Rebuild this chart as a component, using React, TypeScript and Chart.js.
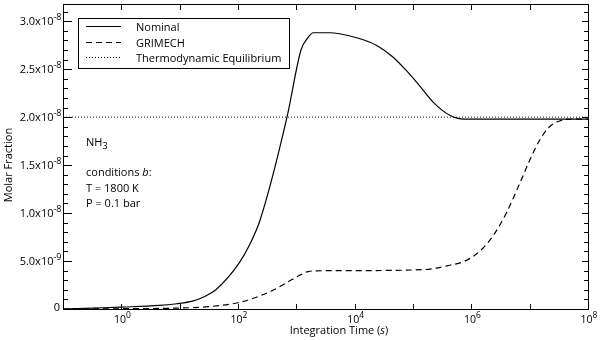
import React, { useEffect, useRef } from "react";
import { Chart, registerables } from "chart.js";

Chart.register(...registerables);

// ---- Data ----
const nominalTime = [0.1, 0.316, 1, 4.47, 8.9, 16.6, 26.3, 41.7, 105, 158, 240, 692, 1202, 1585, 1950, 3715, 5495, 12023, 23442, 44668, 75858, 128825, 218776, 426580, 758578, 1e8];
const nominalValue = [0, 1.0e-10, 2.0e-10, 3.7e-10, 5.5e-10, 8.2e-10, 1.28e-9, 2.0e-9, 4.8e-9, 6.7e-9, 9.3e-9, 2.0e-8, 2.7e-8, 2.83e-8, 2.88e-8, 2.88e-8, 2.87e-8, 2.82e-8, 2.75e-8, 2.63e-8, 2.49e-8, 2.33e-8, 2.16e-8, 2.02e-8, 1.98e-8, 1.98e-8];

const grimechTime = [0.1, 1, 10, 31.6, 100, 200, 398, 708, 1122, 1585, 2239, 5495, 147911, 426580, 758578, 1.38e6, 2.34e6, 3.98e6, 6.76e6, 1e7, 1.48e7, 2.19e7, 3.24e7, 5.5e7, 1e8];
const grimechValue = [0, 3e-11, 1.0e-10, 2.5e-10, 6.5e-10, 1.2e-9, 1.95e-9, 2.8e-9, 3.5e-9, 3.9e-9, 3.98e-9, 4.0e-9, 4.1e-9, 4.56e-9, 4.97e-9, 6.0e-9, 7.6e-9, 1.0e-8, 1.31e-8, 1.55e-8, 1.76e-8, 1.9e-8, 1.96e-8, 1.98e-8, 1.98e-8];

const equilibriumTime = [0.1, 1e8];
const equilibriumValue = [2.0e-8, 2.0e-8];

const seriesNames = ["Nominal", "GRIMECH", "Thermodynamic Equilibrium"];

const xMin = 0.1;
const xMax = 1e8;
const yMin = 0;
const yMax = 3.18e-8;

const xTickValues = [1, 1e2, 1e4, 1e6, 1e8];
const xTickExponents = ["0", "2", "4", "6", "8"];
const xDecadeTicks = [0.1, 1, 10, 1e2, 1e3, 1e4, 1e5, 1e6, 1e7, 1e8];

const yTickValues = [0, 5e-9, 1e-8, 1.5e-8, 2e-8, 2.5e-8, 3e-8];
const yTickMantissas = ["0", "5.0x10", "1.0x10", "1.5x10", "2.0x10", "2.5x10", "3.0x10"];
const yTickExponents = ["", "-9", "-8", "-8", "-8", "-8", "-8"];
const yMinorStep = 1e-9;

const xTitle = "Integration Time (";
const xTitleItalic = "s";
const yTitle = "Molar Fraction";
const speciesName = "NH";
const speciesSub = "3";
const conditionsLines = ["T = 1800 K", "P = 0.1 bar"];

const FONT = '"Open Sans", "DejaVu Sans", sans-serif';

const overlayPlugin = {
  id: "overlay",
  afterDraw(chart: any) {
    const ctx: CanvasRenderingContext2D = chart.ctx;
    const { left, right, top, bottom } = chart.chartArea;
    const xs = chart.scales.x;
    const ys = chart.scales.y;
    ctx.save();
    ctx.strokeStyle = "#000";
    ctx.fillStyle = "#000";
    ctx.lineWidth = 1;
    ctx.setLineDash([]);

    // frame
    ctx.strokeRect(Math.round(left) + 0.5, Math.round(top) + 0.5, Math.round(right - left), Math.round(bottom - top));

    // x ticks
    ctx.beginPath();
    xDecadeTicks.forEach((v) => {
      const px = Math.round(xs.getPixelForValue(v)) + 0.5;
      ctx.moveTo(px, bottom);
      ctx.lineTo(px, bottom - 5);
      ctx.moveTo(px, top);
      ctx.lineTo(px, top + 6);
    });
    // y ticks
    for (let v = yMin; v <= yMax + 1e-15; v += yMinorStep) {
      const isMajor = Math.abs(v / 5e-9 - Math.round(v / 5e-9)) < 1e-6;
      const py = Math.round(ys.getPixelForValue(v)) + 0.5;
      ctx.moveTo(left, py);
      ctx.lineTo(left + (isMajor ? 9 : 5), py);
      ctx.moveTo(right, py);
      ctx.lineTo(right - (isMajor ? 6 : 4), py);
    }
    ctx.stroke();

    // y tick labels
    const baseY = `11px ${FONT}`;
    const supY = `9px ${FONT}`;
    yTickValues.forEach((v, i) => {
      const py = ys.getPixelForValue(v);
      ctx.textBaseline = "middle";
      ctx.textAlign = "left";
      if (!yTickExponents[i]) {
        ctx.font = baseY;
        const w = ctx.measureText(yTickMantissas[i]).width;
        ctx.fillText(yTickMantissas[i], 60 - w, py - 1);
        return;
      }
      ctx.font = supY;
      const ws = ctx.measureText(yTickExponents[i]).width;
      ctx.font = baseY;
      const wb = ctx.measureText(yTickMantissas[i]).width;
      const end = 61.5;
      ctx.fillText(yTickMantissas[i], end - ws - wb, py + 0.5);
      ctx.font = supY;
      ctx.fillText(yTickExponents[i], end - ws, py - 3.5);
    });

    // x tick labels
    xTickValues.forEach((v, i) => {
      const px = xs.getPixelForValue(v);
      ctx.textBaseline = "alphabetic";
      ctx.textAlign = "left";
      ctx.font = `10.5px ${FONT}`;
      const wb = ctx.measureText("10").width;
      ctx.font = `8.5px ${FONT}`;
      const ws = ctx.measureText(xTickExponents[i]).width;
      let start = px - (wb + ws) / 2 + 1;
      if (start + wb + ws > 599) start = 599 - wb - ws;
      ctx.font = `10.5px ${FONT}`;
      ctx.fillText("10", start, 323);
      ctx.font = `8.5px ${FONT}`;
      ctx.fillText(xTickExponents[i], start + wb, 318);
    });

    // x title
    ctx.font = `11px ${FONT}`;
    const w1 = ctx.measureText(xTitle).width;
    ctx.font = `italic 11px ${FONT}`;
    const w2 = ctx.measureText(xTitleItalic).width;
    ctx.font = `11px ${FONT}`;
    const w3 = ctx.measureText(")").width;
    const xStart = 339 - (w1 + w2 + w3) / 2;
    ctx.textBaseline = "alphabetic";
    ctx.fillText(xTitle, xStart, 334);
    ctx.font = `italic 11px ${FONT}`;
    ctx.fillText(xTitleItalic, xStart + w1, 334);
    ctx.font = `11px ${FONT}`;
    ctx.fillText(")", xStart + w1 + w2, 334);

    // y title
    ctx.save();
    ctx.translate(9, 165);
    ctx.rotate(-Math.PI / 2);
    ctx.textAlign = "center";
    ctx.textBaseline = "middle";
    ctx.font = `11px ${FONT}`;
    ctx.fillText(yTitle, 0, 0);
    ctx.restore();

    // legend
    ctx.strokeRect(78.5, 18.5, 211, 50);
    const rows = [26.5, 42.5, 57.5];
    const dashes = [[], [6, 4], [1, 2]];
    rows.forEach((ry, i) => {
      ctx.setLineDash(dashes[i]);
      ctx.lineWidth = i === 2 ? 1 : 1.2;
      ctx.beginPath();
      ctx.moveTo(86, ry);
      ctx.lineTo(121, ry);
      ctx.stroke();
      ctx.setLineDash([]);
      ctx.font = `11px ${FONT}`;
      ctx.textAlign = "left";
      ctx.textBaseline = "middle";
      ctx.fillText(seriesNames[i], 136, ry + 1);
    });

    // annotation
    ctx.font = `11px ${FONT}`;
    ctx.textBaseline = "middle";
    ctx.textAlign = "left";
    ctx.fillText(speciesName, 86, 143);
    const wn = ctx.measureText(speciesName).width;
    ctx.font = `9px ${FONT}`;
    ctx.fillText(speciesSub, 86 + wn, 146);
    ctx.font = `11px ${FONT}`;
    const c1 = "conditions ";
    ctx.fillText(c1, 86, 173);
    const wc1 = ctx.measureText(c1).width;
    ctx.font = `italic 11px ${FONT}`;
    ctx.fillText("b", 86 + wc1, 173);
    const wcb = ctx.measureText("b").width;
    ctx.font = `11px ${FONT}`;
    ctx.fillText(":", 86 + wc1 + wcb, 173);
    ctx.fillText(conditionsLines[0], 86, 188.5);
    ctx.fillText(conditionsLines[1], 86, 203.5);

    ctx.restore();
  },
};

export default function App() {
  const canvasRef = useRef<HTMLCanvasElement | null>(null);

  useEffect(() => {
    document.body.style.margin = "0";
    const canvas = canvasRef.current;
    if (!canvas) return;
    const chart = new Chart(canvas, {
      type: "line",
      data: {
        datasets: [
          {
            label: seriesNames[0],
            data: nominalTime.map((t, i) => ({ x: t, y: nominalValue[i] })),
            borderColor: "#000",
            borderWidth: 1.2,
            pointRadius: 0,
            fill: false,
            cubicInterpolationMode: "monotone",
          },
          {
            label: seriesNames[1],
            data: grimechTime.map((t, i) => ({ x: t, y: grimechValue[i] })),
            borderColor: "#000",
            borderWidth: 1.2,
            borderDash: [6, 4],
            pointRadius: 0,
            fill: false,
            cubicInterpolationMode: "monotone",
          },
          {
            label: seriesNames[2],
            data: equilibriumTime.map((t, i) => ({ x: t, y: equilibriumValue[i] })),
            borderColor: "#222",
            borderWidth: 1,
            borderDash: [1, 2],
            pointRadius: 0,
            fill: false,
          },
        ],
      } as any,
      options: {
        animation: false,
        responsive: false,
        devicePixelRatio: 1,
        layout: { padding: { left: 63, right: 12, top: 4, bottom: 31 } },
        plugins: { legend: { display: false }, tooltip: { enabled: false } },
        scales: {
          x: { type: "logarithmic", min: xMin, max: xMax, display: false },
          y: { type: "linear", min: yMin, max: yMax, display: false },
        },
      } as any,
      plugins: [overlayPlugin],
    });
    return () => chart.destroy();
  }, []);

  return (
    <div style={{ width: 600, height: 340, background: "#fff" }}>
      <canvas ref={canvasRef} width={600} height={340} />
    </div>
  );
}
